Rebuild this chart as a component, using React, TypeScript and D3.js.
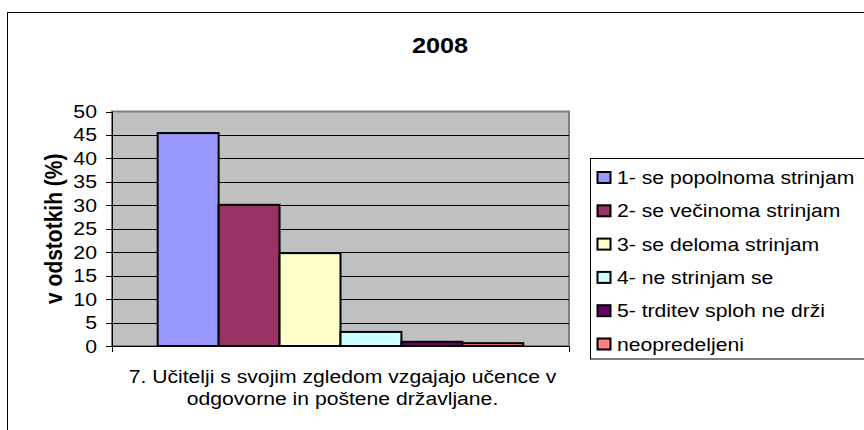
import React from 'react';
import * as d3 from 'd3';

const title = '2008';
const yAxisTitle = 'v odstotkih (%)';
const categoryLines = ['7. Učitelji s svojim zgledom vzgajajo učence v', 'odgovorne in poštene državljane.'];
const categories = ['q7'];
const seriesNames = [
  '1- se popolnoma strinjam',
  '2- se večinoma strinjam',
  '3- se deloma strinjam',
  '4- ne strinjam se',
  '5- trditev sploh ne drži',
  'neopredeljeni',
];
const seriesValues = [45.4, 30.1, 19.8, 3.0, 0.9, 0.6];
const seriesColors = ['#9999FF', '#993366', '#FFFFCC', '#CCFFFF', '#660066', '#FF8080'];
const yTicks = [0, 5, 10, 15, 20, 25, 30, 35, 40, 45, 50];

const W = 864;
const H = 430;
// the source picture is stretched horizontally, so text is too
const SX = 1.15;
const FONT = '"Liberation Sans", Arial, sans-serif';

const plot = { left: 112, right: 569, top: 111.5, bottom: 346 };

const T: React.FC<{ x: number; y: number; size: number; anchor?: string; bold?: boolean; rotate?: boolean; children: React.ReactNode }> = ({ x, y, size, anchor = 'start', bold, rotate, children }) => (
  <text
    transform={rotate ? `translate(${x},${y}) rotate(-90) scale(1,${SX})` : `translate(${x},${y}) scale(${SX},1)`}
    textAnchor={anchor}
    fontFamily={FONT}
    fontSize={size}
    fontWeight={bold ? 'bold' : 'normal'}
    fill="#000"
  >
    {children}
  </text>
);

export default function App() {
  const y = d3.scaleLinear().domain([0, 50]).range([plot.bottom, plot.top]);
  const x0 = d3.scaleBand<string>().domain(categories).range([plot.left, plot.right]).paddingInner(0).paddingOuter(0.125);
  const x1 = d3.scaleBand<number>().domain(d3.range(seriesValues.length)).range([0, x0.bandwidth()]);

  const legend = { x: 590.5, y: 158.5, row: 33.3, first: 184 };

  return (
    <div>
      <style>{`body{margin:0}`}</style>
      <svg width={W} height={H} style={{ display: 'block' }}>
        <rect x={0} y={0} width={W} height={H} fill="#fff" />
        {/* chart area border */}
        <rect x={7.5} y={12.5} width={900} height={500} fill="none" stroke="#000" strokeWidth={1} />

        <T x={440} y={53} size={22} anchor="middle" bold>{title}</T>

        {/* plot area */}
        <rect x={plot.left} y={plot.top} width={plot.right - plot.left} height={plot.bottom - plot.top} fill="#C0C0C0" stroke="#808080" strokeWidth={2} />
        {yTicks.filter(t => t > 0 && t < 50).map(t => (
          <line key={t} x1={plot.left} x2={plot.right} y1={Math.round(y(t)) + 0.5} y2={Math.round(y(t)) + 0.5} stroke="#000" strokeWidth={1} />
        ))}

        {/* bars */}
        {categories.map(c => (
          <g key={c} transform={`translate(${x0(c)},0)`}>
            {seriesValues.map((v, i) => (
              <rect
                key={i}
                x={x1(i)}
                y={y(v)}
                width={x1.bandwidth()}
                height={y(0) - y(v)}
                fill={seriesColors[i]}
                stroke="#000"
                strokeWidth={2}
              />
            ))}
          </g>
        ))}

        {/* axes */}
        <line x1={plot.left + 0.5} x2={plot.left + 0.5} y1={plot.top} y2={plot.bottom} stroke="#000" />
        <line x1={plot.left} x2={plot.right} y1={plot.bottom + 0.5} y2={plot.bottom + 0.5} stroke="#000" />
        {yTicks.map(t => (
          <g key={t}>
            <line x1={plot.left - 6} x2={plot.left} y1={Math.round(y(t)) + 0.5} y2={Math.round(y(t)) + 0.5} stroke="#000" />
            <T x={97} y={y(t) + 6.5} size={18.5} anchor="end">{t}</T>
          </g>
        ))}
        {[plot.left, plot.right].map(px => (
          <line key={px} x1={px + 0.5} x2={px + 0.5} y1={plot.bottom} y2={plot.bottom + 6} stroke="#000" />
        ))}

        <T x={62} y={(plot.top + plot.bottom) / 2} size={21} anchor="middle" bold rotate>{yAxisTitle}</T>

        {categoryLines.map((l, i) => (
          <T key={i} x={(plot.left + plot.right) / 2 + 2} y={383 + i * 22} size={18.4} anchor="middle">{l}</T>
        ))}

        {/* legend */}
        <rect x={legend.x} y={legend.y} width={320} height={200.5} fill="#fff" stroke="#000" strokeWidth={1} />
        {seriesNames.map((n, i) => {
          const by = legend.first + i * legend.row;
          return (
            <g key={n}>
              <rect x={597.5} y={by - 12} width={13} height={11} fill={seriesColors[i]} stroke="#000" strokeWidth={2} />
              <T x={617} y={by} size={18.4}>{n}</T>
            </g>
          );
        })}
      </svg>
    </div>
  );
}
